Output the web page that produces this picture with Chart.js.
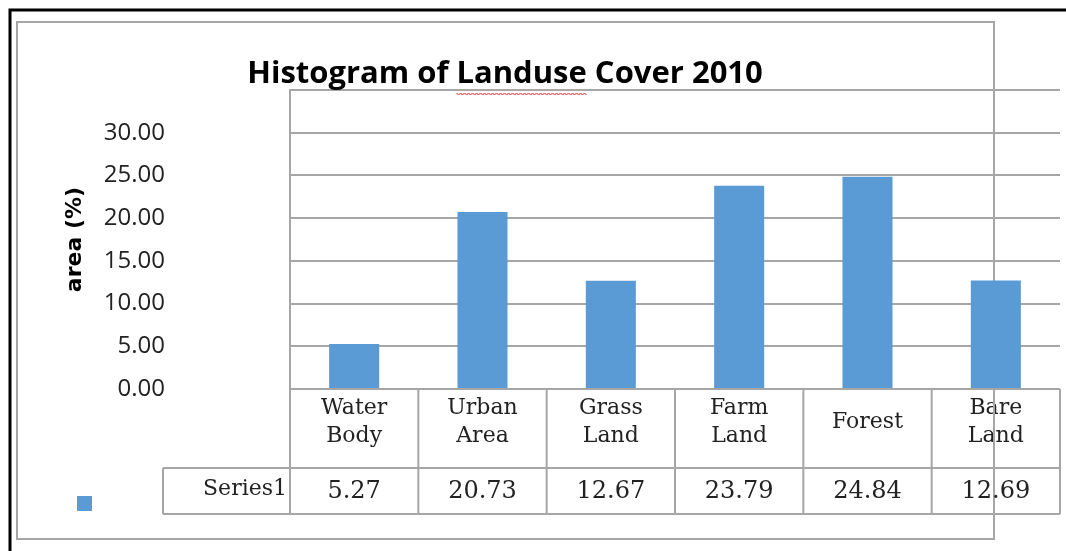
<!DOCTYPE html>
<html>
<head>
<meta charset="utf-8">
<script src="https://cdn.jsdelivr.net/npm/chart.js@4/dist/chart.umd.min.js"></script>
<style>
  html, body { margin: 0; padding: 0; background: #fff; }
  canvas { display: block; }
</style>
</head>
<body>
<canvas id="myChart" width="1066" height="551"></canvas>
<script>
const categories = [["Water", "Body"], ["Urban", "Area"], ["Grass", "Land"], ["Farm", "Land"], "Forest", ["Bare", "Land"]];
const series1 = [5.27, 20.73, 12.67, 23.79, 24.84, 12.69];
const yTicks = [0, 5, 10, 15, 20, 25, 30];

const BAR_BLUE = "#5b9bd5";
const GRID = "#a6a6a6";

// frame, title and the data table under the plot
const decorations = {
  id: "decorations",
  beforeDatasetsDraw(chart) {
    const ctx = chart.ctx;
    ctx.save();
    ctx.strokeStyle = GRID;
    ctx.lineWidth = 2;
    ctx.strokeRect(17, 22, 977, 517);
    ctx.restore();
  },
  afterDraw(chart) {
    const { ctx, chartArea } = chart;
    const x = chart.scales.x;
    const left = chartArea.left;
    const right = chartArea.right;
    const colW = (right - left) / series1.length;
    const rowTop = chartArea.bottom;
    const rowMid = 468;
    const rowBot = 514;

    ctx.save();
    // outer black frame
    ctx.strokeStyle = "#000";
    ctx.lineWidth = 3;
    ctx.beginPath();
    ctx.moveTo(10, 551);
    ctx.lineTo(10, 10);
    ctx.lineTo(1066, 10);
    ctx.stroke();

    // table lines
    ctx.strokeStyle = GRID;
    ctx.lineWidth = 2;
    ctx.beginPath();
    ctx.moveTo(163, rowMid);
    ctx.lineTo(right, rowMid);
    ctx.moveTo(163, rowBot);
    ctx.lineTo(right, rowBot);
    ctx.moveTo(163, rowMid);
    ctx.lineTo(163, rowBot);
    for (let i = 0; i <= series1.length; i++) {
      const cx = left + i * colW;
      ctx.moveTo(cx, rowTop);
      ctx.lineTo(cx, rowBot);
    }
    ctx.stroke();

    // series row
    ctx.fillStyle = "#222";
    ctx.font = "24px 'DejaVu Serif'";
    ctx.textBaseline = "middle";
    ctx.textAlign = "center";
    series1.forEach((v, i) => {
      ctx.fillText(v.toFixed(2), x.getPixelForValue(i), 492);
    });
    ctx.textAlign = "right";
    ctx.font = "22px 'DejaVu Serif'";
    ctx.fillText("Series1", left - 3, 489);

    // legend key
    ctx.fillStyle = BAR_BLUE;
    ctx.fillRect(77, 496, 15, 15);

    // title
    ctx.fillStyle = "#000";
    ctx.font = "bold 31px 'Open Sans'";
    ctx.textAlign = "left";
    ctx.textBaseline = "alphabetic";
    const title = "Histogram of Landuse Cover 2010";
    const tw = ctx.measureText(title).width;
    const tx = 505 - tw / 2;
    ctx.fillText(title, tx, 83);
    const pre = ctx.measureText("Histogram of ").width;
    const word = ctx.measureText("Landuse").width;
    ctx.strokeStyle = "#e02020";
    ctx.lineWidth = 1;
    ctx.beginPath();
    for (let s = 0; s <= word; s += 2) {
      const yy = 94 + ((s / 2) % 2 === 0 ? -1 : 1);
      if (s === 0) ctx.moveTo(tx + pre + s, yy);
      else ctx.lineTo(tx + pre + s, yy);
    }
    ctx.stroke();
    ctx.restore();
  },
};

new Chart(document.getElementById("myChart"), {
  type: "bar",
  data: {
    labels: categories,
    datasets: [
      {
        label: "Series1",
        data: series1,
        backgroundColor: BAR_BLUE,
        barPercentage: 0.39,
        categoryPercentage: 1,
      },
    ],
  },
  plugins: [decorations],
  options: {
    responsive: false,
    animation: false,
    layout: { padding: { left: 0, right: 6, top: 90, bottom: 0 } },
    plugins: {
      legend: { display: false },
      title: { display: false },
      tooltip: { enabled: false },
    },
    scales: {
      x: {
        grid: { display: false },
        border: { display: false },
        ticks: {
          color: "#222",
          font: { family: "'DejaVu Serif'", size: 22, lineHeight: 1.27 },
          padding: 11,
          crossAlign: "center",
          maxRotation: 0,
          autoSkip: false,
        },
        afterFit(scale) {
          scale.height = 162;
        },
      },
      y: {
        min: 0,
        max: 35,
        afterBuildTicks(scale) {
          scale.ticks = yTicks.concat([35]).map((v) => ({ value: v }));
        },
        grid: {
          color: GRID,
          lineWidth: 2,
          drawTicks: true,
          tickLength: 125,
          tickColor: "rgba(0,0,0,0)",
        },
        border: { display: true, color: GRID, width: 2 },
        ticks: {
          color: "#222",
          font: { family: "'Open Sans'", size: 24 },
          padding: 0,
          callback: (v) => (yTicks.includes(v) ? v.toFixed(2) : ""),
        },
        title: {
          display: true,
          text: "area (%)",
          color: "#000",
          font: { family: "'DejaVu Sans'", size: 22, weight: "bold" },
          padding: { top: 62, bottom: 0 },
        },
        afterFit(scale) {
          scale.width = 290;
        },
      },
    },
  },
});
</script>
</body>
</html>
